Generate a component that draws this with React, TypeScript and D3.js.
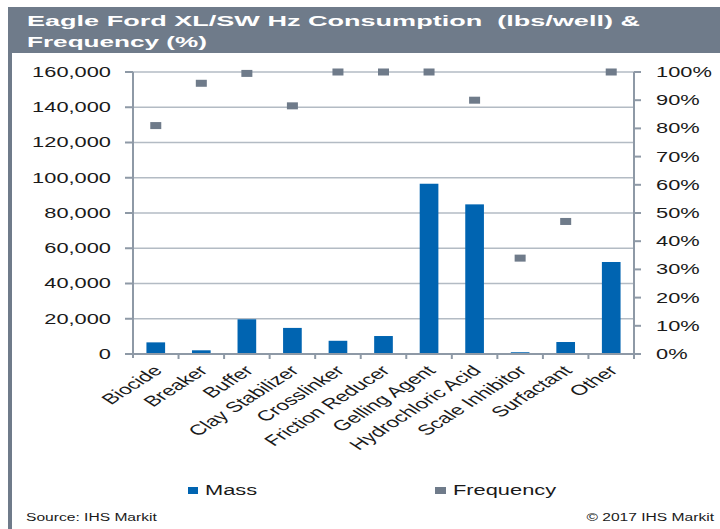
import React from 'react';
import * as d3 from 'd3';

const categories = [
  'Biocide', 'Breaker', 'Buffer', 'Clay Stabilizer', 'Crosslinker', 'Friction Reducer',
  'Gelling Agent', 'Hydrochloric Acid', 'Scale Inhibitor', 'Surfactant', 'Other',
];
const massValues = [6600, 2100, 19700, 14800, 7500, 10200, 96600, 84900, 1000, 6800, 52200];
const frequencyValues = [0.81, 0.96, 0.995, 0.88, 1.0, 1.0, 1.0, 0.9, 0.34, 0.47, 1.0];
const massTicks = [0, 20000, 40000, 60000, 80000, 100000, 120000, 140000, 160000];
const freqTicks = [0, 0.1, 0.2, 0.3, 0.4, 0.5, 0.6, 0.7, 0.8, 0.9, 1.0];

const titleLines = ['Eagle Ford XL/SW Hz Consumption  (lbs/well) &', 'Frequency (%)'];

const BAR = '#0064b1';
const GRAY = '#6f7b8a';
const AXIS = '#8e99a6';
const GRID = '#b3bbc4';
const TEXT = '#1a1a1a';
const FONT = '"Liberation Sans", Arial, sans-serif';
const SX = 1.56; // the picture is stretched sideways

const App = () => {
  const width = 720;
  const height = 529;
  const plot = { left: 133, right: 634, top: 72, bottom: 354 };

  const x = d3.scaleBand().domain(categories).range([plot.left, plot.right]);
  const yMass = d3.scaleLinear().domain([0, 160000]).range([plot.bottom, plot.top]);
  const yFreq = d3.scaleLinear().domain([0, 1]).range([plot.bottom, plot.top]);
  const fmtMass = d3.format(',');
  const fmtPct = d3.format('.0%');

  const barW = x.bandwidth() * 0.41;
  const cx = (c) => (x(c) as number) + x.bandwidth() / 2;

  return (
    <svg
      width={width}
      height={height}
      style={{ position: 'absolute', left: 0, top: 0, background: '#fff' }}
      fontFamily={FONT}
    >
      {/* header band and left frame */}
      <rect x={8} y={7} width={712} height={46} fill={GRAY} />
      <rect x={8} y={7} width={4} height={522} fill={GRAY} />
      {titleLines.map((t, i) => (
        <text
          key={t}
          x={27}
          y={26 + i * 21}
          fill="#fff"
          fontWeight="bold"
          fontSize={15.5}
          textLength={i === 0 ? 613 : 180}
          lengthAdjust="spacingAndGlyphs"
          style={{ whiteSpace: 'pre' }}
        >
          {t}
        </text>
      ))}

      {/* gridlines */}
      {massTicks.filter((t) => t > 0).map((t) => (
        <line key={t} x1={plot.left} x2={plot.right} y1={yMass(t)} y2={yMass(t)} stroke={GRID} strokeWidth={1.6} />
      ))}

      {/* bars */}
      {categories.map((c, i) => (
        <rect
          key={c}
          x={cx(c) - barW / 2}
          y={yMass(massValues[i])}
          width={barW}
          height={yMass(0) - yMass(massValues[i])}
          fill={BAR}
        />
      ))}

      {/* frequency markers */}
      {categories.map((c, i) => (
        <rect key={c} x={cx(c) - 5.5} y={yFreq(frequencyValues[i]) - 3.5} width={11} height={7} fill={GRAY} />
      ))}

      {/* left axis */}
      <line x1={plot.left} x2={plot.left} y1={plot.top} y2={plot.bottom + 4} stroke={AXIS} strokeWidth={2} />
      {massTicks.map((t) => (
        <g key={t} transform={`translate(0,${yMass(t)})`}>
          <line x1={plot.left - 8} x2={plot.left} stroke={AXIS} strokeWidth={2} />
          <text transform={`translate(111,0) scale(${SX},1)`} textAnchor="end" dy="0.35em" fontSize={14} fill={TEXT}>
            {fmtMass(t)}
          </text>
        </g>
      ))}

      {/* right axis */}
      <line x1={plot.right} x2={plot.right} y1={plot.top} y2={plot.bottom + 4} stroke={AXIS} strokeWidth={2} />
      {freqTicks.map((t) => (
        <g key={t} transform={`translate(0,${yFreq(t)})`}>
          <line x1={plot.right} x2={plot.right + 7} stroke={AXIS} strokeWidth={2} />
          <text transform={`translate(656,0) scale(${SX},1)`} textAnchor="start" dy="0.35em" fontSize={14} fill={TEXT}>
            {fmtPct(t)}
          </text>
        </g>
      ))}

      {/* bottom axis */}
      <line x1={plot.left - 8} x2={plot.right} y1={plot.bottom} y2={plot.bottom} stroke={AXIS} strokeWidth={2} />
      {categories.map((c) => (
        <line
          key={c}
          x1={(x(c) as number) + x.bandwidth()}
          x2={(x(c) as number) + x.bandwidth()}
          y1={plot.bottom}
          y2={plot.bottom + 5}
          stroke={AXIS}
          strokeWidth={2}
        />
      ))}
      {categories.map((c) => (
        <text
          key={c}
          transform={`translate(${cx(c) + 2},${plot.bottom + 14}) scale(${SX},1) rotate(-45)`}
          textAnchor="end"
          dy="0.35em"
          fontSize={14.5}
          fill={TEXT}
        >
          {c}
        </text>
      ))}

      {/* legend */}
      <rect x={188} y={487} width={10} height={7} fill={BAR} />
      <text transform={`translate(205,495) scale(${SX},1)`} fontSize={14} fill={TEXT}>Mass</text>
      <rect x={435} y={487} width={11} height={7} fill={GRAY} />
      <text transform={`translate(453,495) scale(${SX},1)`} fontSize={14} fill={TEXT}>Frequency</text>

      {/* footer */}
      <text transform={`translate(26,521) scale(${SX},1)`} fontSize={10} fill={TEXT}>Source: IHS Markit</text>
      <text transform={`translate(714,521) scale(${SX},1)`} fontSize={10} fill={TEXT} textAnchor="end">
        © 2017 IHS Markit
      </text>
    </svg>
  );
};

export default App;
